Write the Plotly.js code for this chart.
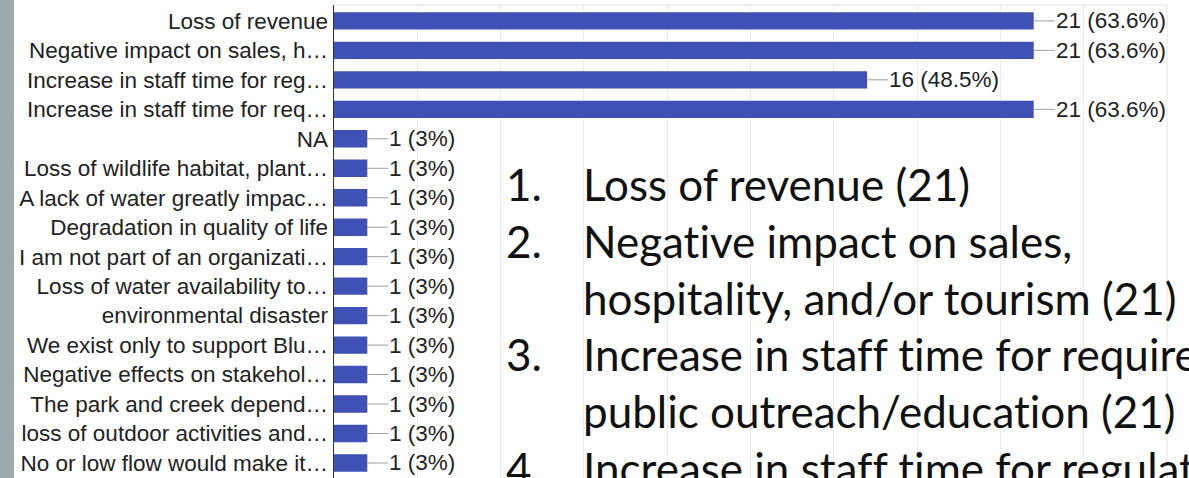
<!DOCTYPE html>
<html><head><meta charset="utf-8">
<script src="https://cdn.plot.ly/plotly-3.0.1.min.js"></script>
<style>
html,body{margin:0;padding:0;background:#fff;overflow:hidden;}
#chart{width:1189px;height:478px;position:relative;}
#strip{position:absolute;left:0;top:0;width:14px;height:478px;background:#9aabb0;z-index:5;}
svg text{font-variant-ligatures:none;font-feature-settings:"liga" 0, "clig" 0;}
</style></head>
<body>
<div id="strip"></div>
<div id="chart"></div>
<script>
const categories = [
  "Loss of revenue",
  "Negative impact on sales, h…",
  "Increase in staff time for reg…",
  "Increase in staff time for req…",
  "NA",
  "Loss of wildlife habitat, plant…",
  "A lack of water greatly impac…",
  "Degradation in quality of life",
  "I am not part of an organizati…",
  "Loss of water availability to…",
  "environmental disaster",
  "We exist only to support Blu…",
  "Negative effects on stakehol…",
  "The park and creek depend…",
  "loss of outdoor activities and…",
  "No or low flow would make it…"
];
const counts = [21, 21, 16, 21, 1, 1, 1, 1, 1, 1, 1, 1, 1, 1, 1, 1];
const percents = ["63.6%", "63.6%", "48.5%", "63.6%", "3%", "3%", "3%", "3%", "3%", "3%", "3%", "3%", "3%", "3%", "3%", "3%"];

const listNumbers = ["1.", "2.", "", "3.", "", "4."];
const listLines = [
  "Loss of revenue (21)",
  "Negative impact on sales,",
  "hospitality, and/or tourism (21)",
  "Increase in staff time for required",
  "public outreach/education (21)",
  "Increase in staff time for regulatory"
];

const W = 1189, H = 478;
const M = {l: 334, r: 22, t: 5, b: 0};
const pw = W - M.l - M.r, ph = H - M.t - M.b;
const px2x = px => (px - M.l) / pw;
const px2y = py => (H - M.b - py) / ph;

const labelFont = {family: 'Liberation Sans, Arial, sans-serif', size: 22.5, color: '#222'};
const bigFont = {family: 'Lato, sans-serif', size: 44, color: '#111'};

const annotations = [];
categories.forEach((c, i) => {
  annotations.push({
    x: counts[i], y: c, xref: 'x', yref: 'y',
    text: counts[i] + ' (' + percents[i] + ')',
    showarrow: true, arrowhead: 0, arrowwidth: 1, arrowcolor: '#9e9e9e',
    ax: 21, ay: 0, xanchor: 'left', standoff: 0, borderpad: 0,
    font: labelFont
  });
});
const lineTop = 184, lineGap = 56.8;
listLines.forEach((t, i) => {
  const cy = lineTop + i * lineGap;
  if (listNumbers[i]) {
    annotations.push({
      x: px2x(504), y: px2y(cy), xref: 'paper', yref: 'paper',
      text: listNumbers[i], showarrow: false, xanchor: 'left', yanchor: 'middle',
      font: bigFont
    });
  }
  annotations.push({
    x: px2x(581), y: px2y(cy), xref: 'paper', yref: 'paper',
    text: t, showarrow: false, xanchor: 'left', yanchor: 'middle',
    font: bigFont
  });
});

const trace = {
  type: 'bar', orientation: 'h',
  x: counts, y: categories,
  marker: {color: '#3f51b5', line: {width: 0}},
  width: 0.59, hoverinfo: 'none'
};

const layout = {
  width: W, height: H,
  margin: M,
  paper_bgcolor: '#fff', plot_bgcolor: '#fff',
  showlegend: false,
  xaxis: {range: [0, 25], dtick: 2.5, tick0: 0, showticklabels: false,
          showgrid: true, gridcolor: '#ebebeb', gridwidth: 1, zeroline: false, fixedrange: true},
  yaxis: {type: 'category', range: [15.51, -0.54], showgrid: false, zeroline: false,
          showline: true, linecolor: '#333', linewidth: 1.5,
          ticks: '', tickfont: labelFont, fixedrange: true},
  shapes: [
    {type: 'line', xref: 'paper', yref: 'paper', x0: 0, x1: 1, y0: 1, y1: 1, line: {color: '#e3e3e3', width: 1}},
    {type: 'line', xref: 'paper', yref: 'paper', x0: 1, x1: 1, y0: 0, y1: 1, line: {color: '#e3e3e3', width: 1}}
  ],
  annotations: annotations
};

Plotly.newPlot('chart', [trace], layout, {displayModeBar: false, staticPlot: true});
</script>
</body></html>
